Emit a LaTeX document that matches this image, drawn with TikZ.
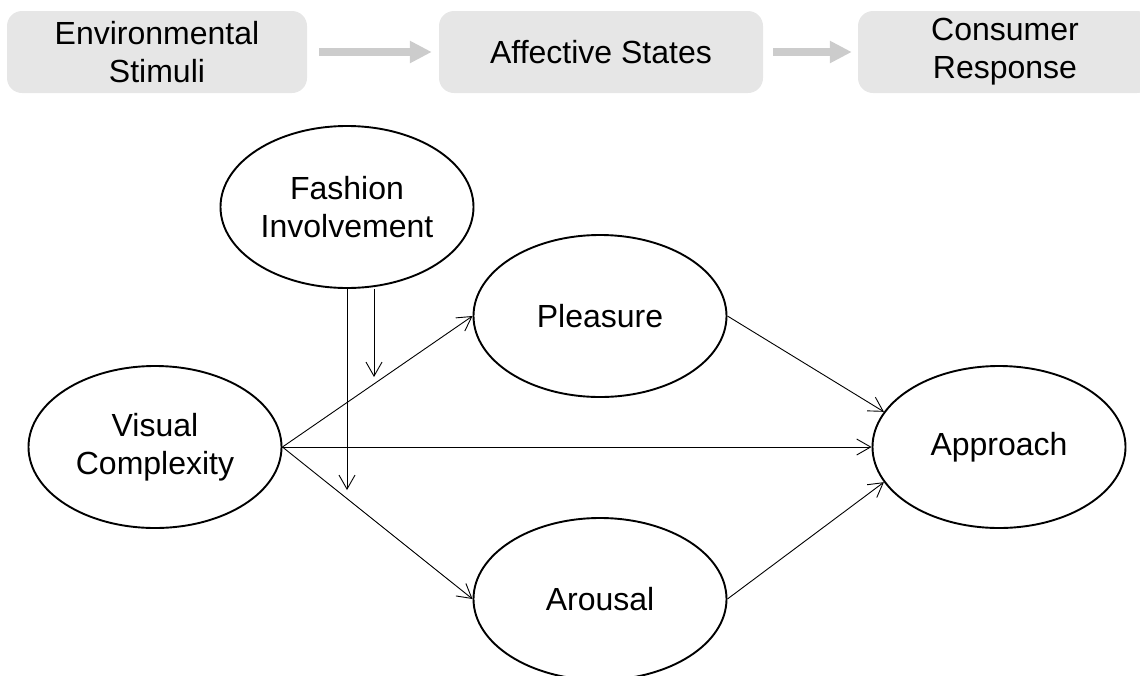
\documentclass[tikz,border=0pt]{standalone}
\usepackage{fontspec}
\setmainfont{Liberation Sans}
\usepackage{xcolor}
\usepackage{tikz}
\usetikzlibrary{arrows.meta,positioning,shapes.geometric}

\definecolor{stagegray}{HTML}{E6E6E6}
\definecolor{flowgray}{HTML}{CCCCCC}

\begin{document}
\begin{tikzpicture}[x=1pt,y=-1pt,
  stage/.style={fill=stagegray,rounded corners=15pt,minimum height=82pt,inner sep=0pt,align=center,font=\fontsize{32}{38}\selectfont},
  construct/.style={ellipse,draw,line width=1.9pt,minimum width=253pt,minimum height=162pt,inner sep=0pt,align=center,font=\fontsize{32}{38}\selectfont},
  flow/.style={draw=flowgray,line width=8pt,-{Triangle[length=22pt,width=21pt]}},
  link/.style={line width=0.9pt,-{Straight Barb[length=14pt,width=16pt]}}]
\useasboundingbox (0,0) rectangle (1140,675);
% S-O-R stages
\node[stage,minimum width=300pt] (env) at (157,52) {Environmental\\Stimuli};
\node[stage,minimum width=324pt] (aff) at (601,52) {Affective States};
\node[stage,minimum width=294pt] (res) at (1005,52) {Consumer\\Response};
\draw[flow,shorten <=12pt,shorten >=7pt] (env) -- (aff);
\draw[flow,shorten <=10pt,shorten >=6pt] (aff) -- (res);
% Constructs
\node[construct] (fi) at (347,207) {Fashion\\Involvement};
\node[construct] (vc) at (155,447) {Visual\\Complexity};
\node[construct] (pl) at (600,316) {Pleasure};
\node[construct] (ar) at (600,599) {Arousal};
\node[construct] (ap) at (999,447) {Approach};
% Paths
\draw[link] (vc.east) -- (pl.west);
\draw[link] (vc.east) -- (ap.west);
\draw[link] (vc.east) -- (ar.west);
\draw[link] (pl.east) -- (ap.163);
\draw[link] (ar.east) -- (ap.197);
% Moderation
\coordinate (modP) at (374,377);
\coordinate (modA) at (347,490);
\draw[link] (fi.south -| modP) -- (modP);
\draw[link] (fi.south) -- (modA);
\end{tikzpicture}
\end{document}
